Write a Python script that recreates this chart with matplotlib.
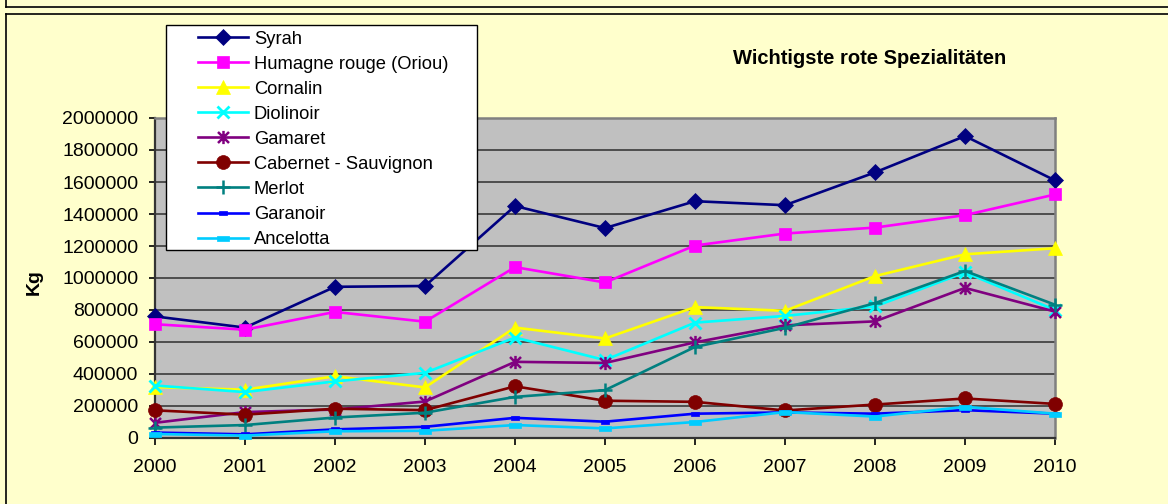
import matplotlib
matplotlib.use("Agg")
import matplotlib.pyplot as plt
from matplotlib.path import Path
from matplotlib.lines import Line2D
from matplotlib.patches import Rectangle

plt.rcParams['font.family'] = ['Liberation Sans', 'DejaVu Sans']

years = [2000, 2001, 2002, 2003, 2004, 2005, 2006, 2007, 2008, 2009, 2010]
syrah = [760000, 690000, 945000, 950000, 1450000, 1312000, 1480000, 1455000, 1660000, 1887000, 1610000]
humagne = [711000, 677000, 788000, 727000, 1068000, 972000, 1203000, 1278000, 1315000, 1393000, 1522000]
cornalin = [318000, 302000, 386000, 316000, 690000, 622000, 818000, 795000, 1012000, 1148000, 1186000]
diolinoir = [328000, 287000, 354000, 407000, 628000, 487000, 721000, 763000, 822000, 1035000, 800000]
gamaret = [95000, 162000, 178000, 228000, 476000, 469000, 598000, 704000, 729000, 938000, 790000]
cabernet = [173000, 146000, 183000, 174000, 323000, 233000, 226000, 172000, 209000, 247000, 213000]
merlot = [65000, 81000, 128000, 158000, 257000, 299000, 569000, 689000, 843000, 1044000, 833000]
garanoir = [34000, 23000, 54000, 70000, 126000, 102000, 152000, 160000, 152000, 174000, 152000]
ancelotta = [25000, 15000, 42000, 45000, 81000, 60000, 100000, 162000, 134000, 195000, 152000]

labels = ["Syrah", "Humagne rouge (Oriou)", "Cornalin", "Diolinoir", "Gamaret",
          "Cabernet - Sauvignon", "Merlot", "Garanoir", "Ancelotta"]
series = [syrah, humagne, cornalin, diolinoir, gamaret, cabernet, merlot, garanoir, ancelotta]
colors = ["#000080", "#FF00FF", "#FFFF00", "#00FFFF", "#800080",
          "#800000", "#008080", "#0000FF", "#00CCFF"]
title = "Wichtigste rote Spezialitäten"
ylabel = "Kg"

star = Path([(-0.5, -0.5), (0.5, 0.5), (-0.5, 0.5), (0.5, -0.5), (0, -0.6), (0, 0.6)],
            [Path.MOVETO, Path.LINETO, Path.MOVETO, Path.LINETO, Path.MOVETO, Path.LINETO])
dash = Path([(-1, -0.45), (1, -0.45), (1, 0.45), (-1, 0.45), (-1, -0.45)],
            [Path.MOVETO, Path.LINETO, Path.LINETO, Path.LINETO, Path.CLOSEPOLY])

styles = [
    dict(marker="D", ms=8, mew=0.5),
    dict(marker="s", ms=8.5, mew=0.5),
    dict(marker="^", ms=9.5, mew=0.5),
    dict(marker="x", ms=8.5, mew=2),
    dict(marker=star, ms=9.5, mew=1.8),
    dict(marker="o", ms=10, mew=0.5),
    dict(marker="+", ms=10.5, mew=1.8),
    dict(marker=dash, ms=6, mew=0.5),
    dict(marker=dash, ms=8, mew=0.5),
]

W, H = 1168, 504
fig = plt.figure(figsize=(W / 100, H / 100), dpi=100)
fig.patch.set_facecolor("#FFFFCC")

ax = fig.add_axes([155 / W, 1 - 438 / H, 900 / W, 320 / H])
ax.set_facecolor("#C0C0C0")

lines = []
for vals, lab, col, st in zip(series, labels, colors, styles):
    ln, = ax.plot(years, vals, color=col, lw=1.9, label=lab,
                  marker=st["marker"], markersize=st["ms"], markeredgewidth=st["mew"],
                  markerfacecolor=col, markeredgecolor=col, clip_on=False, zorder=3)
    lines.append(ln)

ax.set_xlim(2000, 2010)
ax.set_ylim(0, 2000000)
ax.set_xticks(years)
ax.set_xticklabels([str(y) for y in years])
ax.set_yticks(range(0, 2000001, 200000))
ax.set_yticklabels([str(v) for v in range(0, 2000001, 200000)])
ax.tick_params(axis="both", direction="out", labelsize=14, colors="#000000", width=1.2)
ax.tick_params(axis="y", length=4, pad=8)
ax.tick_params(axis="x", length=5, pad=10)
ax.yaxis.grid(True, color="#3a3a3a", lw=1.2)
ax.set_axisbelow(True)
for s in ["top", "right"]:
    ax.spines[s].set_color("#808080")
    ax.spines[s].set_linewidth(1.8)
for s in ["left", "bottom"]:
    ax.spines[s].set_color("#333333")
    ax.spines[s].set_linewidth(1.6)

fig.text(34 / W, 1 - 282 / H, ylabel, rotation=90, fontsize=14, fontweight="bold",
         ha="center", va="center")
fig.text(870 / W, 1 - 59 / H, title, fontsize=14.5, fontweight="bold",
         ha="center", va="center")

# legend frame and legend
fig.add_artist(Rectangle((166 / W, 1 - 250 / H), 311 / W, 225 / H, transform=fig.transFigure,
                         facecolor="white", edgecolor="#000000", lw=1.0, zorder=5))
leg = fig.legend(handles=lines, labels=labels, loc="upper left",
                 bbox_to_anchor=(198 / W, 1 - 30.5 / H), frameon=False, fontsize=13.2,
                 handlelength=2.75, handletextpad=0.3, labelspacing=0.44,
                 borderpad=0, borderaxespad=0)
leg.set_zorder(6)

# outer borders
fig.add_artist(Line2D([6 / W, 6 / W], [0, 1 - 14 / H], transform=fig.transFigure, color="black", lw=1.2))
fig.add_artist(Line2D([6 / W, 1], [1 - 14 / H, 1 - 14 / H], transform=fig.transFigure, color="black", lw=1.2))
fig.add_artist(Line2D([6 / W, 1], [1 - 7 / H, 1 - 7 / H], transform=fig.transFigure, color="black", lw=1.2))
fig.add_artist(Line2D([6 / W, 6 / W], [1 - 7 / H, 1], transform=fig.transFigure, color="black", lw=1.2))

fig.savefig("out.png", dpi=100, facecolor=fig.get_facecolor())
